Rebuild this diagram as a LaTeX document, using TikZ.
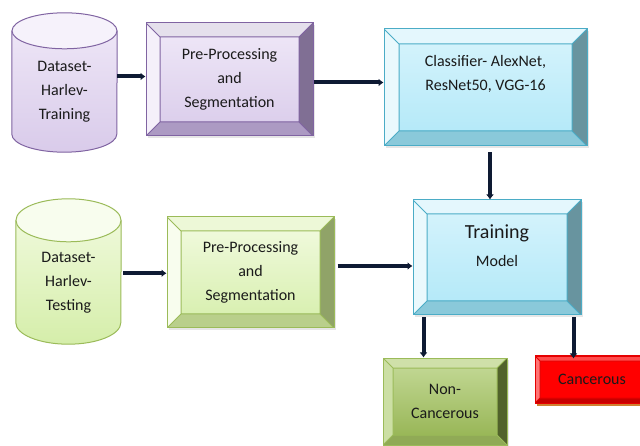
\documentclass[tikz,border=0pt]{standalone}
\usepackage{fontspec}
\setmainfont{Carlito}
\usetikzlibrary{positioning}
\usetikzlibrary{calc}
\usetikzlibrary{arrows.meta}
\usetikzlibrary{shadows}
\usetikzlibrary{backgrounds}

\definecolor{txt}{HTML}{1A1A1A}
\definecolor{arrowcol}{HTML}{0E1A33}
% purple branch
\definecolor{purpEdge}{HTML}{8064A2}
\definecolor{purpTop}{HTML}{F0E9F8}
\definecolor{purpBot}{HTML}{D9CBEA}
% blue branch
\definecolor{blueEdge}{HTML}{4BACC6}
\definecolor{blueTop}{HTML}{D8F4FC}
\definecolor{blueBot}{HTML}{B0E8F8}
% green branch
\definecolor{grnEdge}{HTML}{9BBB59}
\definecolor{grnTop}{HTML}{F3FBE2}
\definecolor{grnBot}{HTML}{D5EEAA}
\definecolor{olvTop}{HTML}{C6DB9A}
\definecolor{olvBot}{HTML}{93B24F}
% red
\definecolor{redFace}{HTML}{FF0000}

% drum outline behind a body node: #1 node, #2 cap radius, #3 top, #4 bottom, #5 edge
\newcommand{\drum}[5]{%
  \fill[black, opacity=0.12, shift={(2,2)}] (#1.north west) -- ($(#1.south west)+(0,-#2)$)
    arc[start angle=180, end angle=0, x radius=52.5, y radius=#2] -- (#1.north east)
    arc[start angle=0, end angle=-180, x radius=52.5, y radius=#2] -- cycle;
  \shade[top color=#3, bottom color=#4] (#1.north west) -- ($(#1.south west)+(0,-#2)$)
    arc[start angle=180, end angle=0, x radius=52.5, y radius=#2] -- (#1.north east)
    arc[start angle=0, end angle=-180, x radius=52.5, y radius=#2] -- cycle;
  \draw[#5, line width=1pt] (#1.north west) -- ($(#1.south west)+(0,-#2)$)
    arc[start angle=180, end angle=0, x radius=52.5, y radius=#2] -- (#1.north east);
  \filldraw[fill=#3!60!white, draw=#5, line width=1pt] (#1.north) ellipse [x radius=52.5, y radius=#2];
}

\tikzset{
  % #1 bevel width, #2 top, #3 left, #4 right, #5 bottom, #6 edge
  bevelbox/.style n args={6}{
    rectangle, draw=#6, line width=1pt, align=center, text=txt,
    path picture={
      \coordinate (b-nw) at (path picture bounding box.north west);
      \coordinate (b-ne) at (path picture bounding box.north east);
      \coordinate (b-sw) at (path picture bounding box.south west);
      \coordinate (b-se) at (path picture bounding box.south east);
      \coordinate (i-nw) at ($(b-nw)+(#1,#1)$);
      \coordinate (i-ne) at ($(b-ne)+(-#1,#1)$);
      \coordinate (i-sw) at ($(b-sw)+(#1,-#1)$);
      \coordinate (i-se) at ($(b-se)+(-#1,-#1)$);
      \fill[#2] (b-nw) -- (b-ne) -- (i-ne) -- (i-nw) -- cycle;
      \fill[#3] (b-nw) -- (i-nw) -- (i-sw) -- (b-sw) -- cycle;
      \fill[#4] (b-ne) -- (b-se) -- (i-se) -- (i-ne) -- cycle;
      \fill[#5] (b-sw) -- (i-sw) -- (i-se) -- (b-se) -- cycle;
      \draw[#6, line width=1pt] (i-nw) rectangle (i-se)
        (b-nw) -- (i-nw) (b-ne) -- (i-ne) (b-sw) -- (i-sw) (b-se) -- (i-se);
    }
  },
  dbody/.style={rectangle, align=center, text=txt, minimum width=105, inner sep=0pt},
  softshadow/.style={drop shadow={opacity=0.2, shadow xshift=2pt, shadow yshift=-2pt}},
  flow/.style={->, draw=arrowcol, line width=4pt}
}

\begin{document}
\begin{tikzpicture}[x=1pt, y=-1pt, >={Latex[length=5pt,width=8pt]},
    font=\fontsize{16}{24}\selectfont]
  \useasboundingbox (0,0) rectangle (640,446);
  \clip (0,0) rectangle (640,446);

  % training branch
  \node[dbody, minimum height=121] (dsTrain) at (64.5,91.5)
    {Dataset-\\Harlev-\\Training};
  \node[bevelbox={14}{purpEdge!20!white}{purpTop!70!white}{purpEdge!60!gray}{purpEdge!65!white}{purpEdge},
    top color=purpTop, bottom color=purpBot, softshadow,
    minimum width=167, minimum height=113] (ppTrain) at (229.5,79.5)
    {Pre-Processing\\and\\Segmentation};
  \node[bevelbox={15}{blueTop!70!white}{blueTop!55!white}{blueEdge!45!gray}{blueEdge!65!white}{blueEdge},
    top color=blueTop, bottom color=blueBot, softshadow,
    minimum width=203, minimum height=117] (classifier) at (485.5,87.5)
    {Classifier- AlexNet,\\ResNet50, VGG-16\\[6pt]\mbox{}};

  % testing branch
  \node[dbody, minimum height=123.5] (dsTest) at (68.5,282.25)
    {Dataset-\\Harlev-\\Testing};
  \node[bevelbox={14}{grnTop!80!grnBot}{grnTop!60!white}{grnEdge!60!gray}{grnEdge!70!white}{grnEdge},
    top color=grnTop, bottom color=grnBot, softshadow,
    minimum width=167, minimum height=111] (ppTest) at (250.5,272.5)
    {Pre-Processing\\and\\Segmentation};
  \node[bevelbox={14}{blueTop!70!white}{blueTop!55!white}{blueEdge!45!gray}{blueEdge!65!white}{blueEdge},
    top color=blueTop, bottom color=blueBot, softshadow,
    minimum width=168, minimum height=115] (training) at (497,257.5)
    {{\fontsize{20}{24}\selectfont Training}\\[4pt]Model\\\mbox{}};

  % outcomes
  \node[bevelbox={10}{olvTop!85!white}{olvTop!90!white}{olvBot!55!black}{olvBot!85!gray}{grnEdge},
    top color=olvTop, bottom color=olvBot, softshadow,
    minimum width=124, minimum height=87] (nonCanc) at (445,401.5)
    {Non-\\Cancerous};
  \fill[brown!75!orange] ($(592,379.5)+(-55,23.5)$) rectangle ($(592,379.5)+(57,26.5)$);
  \node[bevelbox={5}{redFace!70!white}{redFace!55!white}{redFace!80!black}{redFace!78!black}{redFace!90!black},
    fill=redFace, minimum width=114, minimum height=47] (canc) at (592,379.5)
    {Cancerous};

  % datasets drawn as drums behind their labels
  \begin{scope}[on background layer]
    \drum{dsTrain}{18}{purpTop}{purpBot}{purpEdge}
    \drum{dsTest}{21.5}{grnTop}{grnBot}{grnEdge}
  \end{scope}

  % connectors
  \draw[flow] (ppTrain.west -| dsTrain.east) ++(0,-3) coordinate (d1) -- (d1 -| ppTrain.west);
  \draw[flow] ($(ppTrain.east)+(0,3)$) coordinate (p0) -- (p0 -| classifier.west);
  \draw[flow] ($(classifier.south)+(4.5,6)$) coordinate (c1) -- (c1 |- training.north);
  \draw[flow] ($(dsTest.east)+(2,-9)$) coordinate (d2) -- (d2 -| ppTest.west);
  \draw[flow] ($(ppTest.east)+(3,-6.5)$) coordinate (p1) -- (p1 -| training.west);
  \draw[flow] ($(training.south west)+(11,2)$) coordinate (t1) -- (t1 |- nonCanc.north);
  \draw[flow] ($(training.south east)+(-8,2)$) coordinate (t2) -- ($(t2 |- canc.north)+(0,3)$);
\end{tikzpicture}
\end{document}
